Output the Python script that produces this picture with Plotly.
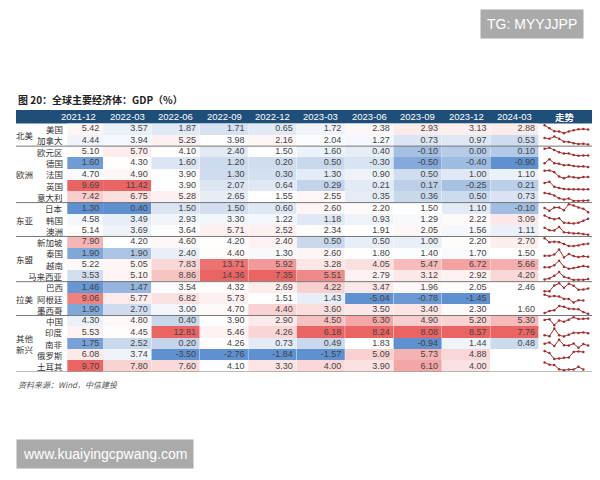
import plotly.graph_objects as go
import numpy as np

periods = ["2021-12","2022-03","2022-06","2022-09","2022-12","2023-03","2023-06","2023-09","2023-12","2024-03"]
regions = [("北美",0,1),("欧洲",2,6),("东亚",7,9),("东盟",10,13),("拉美",14,16),("其他<br>新兴",17,21)]
countries = ["美国","加拿大","欧元区","德国","法国","英国","意大利","日本","韩国","澳洲","新加坡","泰国","越南","马来西亚","巴西","阿根廷","墨西哥","中国","印度","南非","俄罗斯","土耳其"]
N = None
values = [
 [5.42,3.57,1.87,1.71,0.65,1.72,2.38,2.93,3.13,2.88],
 [4.44,3.94,5.25,3.98,2.16,2.04,1.27,0.73,0.97,0.53],
 [5.10,5.70,4.10,2.40,1.50,1.60,0.40,-0.10,0.00,0.10],
 [1.60,4.30,1.60,1.20,0.20,0.50,-0.30,-0.50,-0.40,-0.90],
 [4.70,4.90,3.90,1.30,0.30,1.30,0.90,0.50,1.00,1.10],
 [9.69,11.42,3.90,2.07,0.64,0.29,0.21,0.17,-0.25,0.21],
 [7.42,6.75,5.28,2.65,1.55,2.55,0.35,0.36,0.50,0.73],
 [1.30,0.40,1.50,1.50,0.60,2.60,2.20,1.50,1.10,-0.10],
 [4.58,3.49,2.93,3.30,1.22,1.18,0.93,1.29,2.22,3.09],
 [5.14,3.69,3.64,5.71,2.52,2.34,1.91,2.05,1.56,1.11],
 [7.90,4.20,4.60,4.20,2.40,0.50,0.50,1.00,2.20,2.70],
 [1.90,1.90,2.40,4.40,1.30,2.60,1.80,1.40,1.70,1.50],
 [5.22,5.05,7.83,13.71,5.92,3.28,4.05,5.47,6.72,5.66],
 [3.53,5.10,8.86,14.36,7.35,5.51,2.79,3.12,2.92,4.20],
 [1.46,1.47,3.54,4.32,2.69,4.22,3.47,1.96,2.05,2.46],
 [9.06,5.77,6.82,5.73,1.51,1.43,-5.04,-0.78,-1.45,N],
 [1.90,2.70,3.00,4.70,4.40,3.60,3.50,3.40,2.30,1.60],
 [4.30,4.80,0.40,3.90,2.90,4.50,6.30,4.90,5.20,5.30],
 [5.53,4.45,12.81,5.46,4.26,6.18,8.24,8.08,8.57,7.76],
 [1.75,2.52,0.20,4.26,0.73,0.49,1.83,-0.94,1.44,0.48],
 [6.08,3.74,-3.50,-2.76,-1.84,-1.57,5.09,5.73,4.88,N],
 [9.70,7.80,7.60,4.10,3.30,4.00,3.90,6.10,4.00,N],
]
nr = len(countries)
arr = np.array([[np.nan if v is None else v for v in row] for row in values], dtype=float)

z = np.full_like(arr, np.nan)
for j in range(arr.shape[1]):
    col = arr[:, j]; ok = ~np.isnan(col)
    med = np.median(col[ok]); mx = col[ok].max(); mn = col[ok].min()
    for i in range(nr):
        v = col[i]
        if np.isnan(v): continue
        z[i, j] = (v - med) / (mx - med) if v >= med else (v - med) / (med - mn)
z[14, 9] = 0.0

cscale = [[0,"#5f90d0"],[0.25,"#c3d4eb"],[0.5,"#ffffff"],[0.75,"#f9d2d2"],[1,"#eb6464"]]
fig = go.Figure()
for j in range(10):
    x0 = -0.24 if j == 0 else j - 0.5
    fig.add_trace(go.Heatmap(
        z=z[:, j:j+1], x=[x0, j + 0.5], y=np.arange(nr + 1) - 0.5, zmin=-1, zmax=1,
        colorscale=cscale, showscale=False, hoverinfo="skip"))

tx, ty, tt = [], [], []
for i in range(nr):
    for j in range(10):
        if not np.isnan(arr[i, j]):
            tx.append(j + 0.42); ty.append(i); tt.append(f"{arr[i,j]:.2f}")
fig.add_trace(go.Scatter(x=tx, y=ty, text=tt, mode="text", textposition="middle left",
    textfont=dict(size=9, color="#444", family="Liberation Sans"), hoverinfo="skip"))

for i in range(nr):
    row = arr[i]; ok = ~np.isnan(row)
    vals = row[ok]; mn, mx = vals.min(), vals.max()
    xs = 9.62 + np.arange(len(row))[ok] * (0.9 / 9)
    ys = i + 0.35 - (vals - mn) / (mx - mn) * 0.7
    fig.add_trace(go.Scatter(x=xs, y=ys, mode="lines+markers",
        line=dict(color="#a03030", width=1), marker=dict(size=2.5, color="#a03030"), hoverinfo="skip"))

ann = []
for name, a, b in regions:
    ann.append(dict(x=-1.12, y=(a + b) / 2, text=name, showarrow=False, xref="x", yref="y",
                    font=dict(size=8.5, color="#333", family="Noto Sans CJK SC")))
for i, c in enumerate(countries):
    ann.append(dict(x=-0.28, y=i, text=c, showarrow=False, xref="x", yref="y", xanchor="right",
                    font=dict(size=8.5, color="#333", family="Noto Sans CJK SC")))
for j, p in enumerate(periods):
    ann.append(dict(x=j, y=-1.1, text=p, showarrow=False, xref="x", yref="y",
                    font=dict(size=9.5, color="white", family="Liberation Sans")))
ann.append(dict(x=10.05, y=-1.1, text="<b>走势</b>", showarrow=False, xref="x", yref="y",
                font=dict(size=9.5, color="white", family="Noto Sans CJK SC")))
ann.append(dict(x=0.0, y=1.075, xref="paper", yref="paper", xanchor="left", showarrow=False,
                text="<b>图 20：全球主要经济体：GDP（%）</b>", font=dict(size=10, color="#222", family="Noto Sans CJK SC")))
ann.append(dict(x=0.0, y=-0.075, xref="paper", yref="paper", xanchor="left", showarrow=False,
                text="<i>资料来源：Wind，中信建投</i>", font=dict(size=8, color="#555", family="Noto Sans CJK SC")))
ann.append(dict(x=0.985, y=1.385, xref="paper", yref="paper", xanchor="right", yanchor="top", showarrow=False,
                text="TG: MYYJJPP", bgcolor="#aaaaaa", borderpad=6, font=dict(size=14, color="white", family="Liberation Sans")))
ann.append(dict(x=0.0, y=-0.37, xref="paper", yref="paper", xanchor="left", yanchor="bottom", showarrow=False,
                text="www.kuaiyingcpwang.com", bgcolor="#aaaaaa", borderpad=6, font=dict(size=14, color="white", family="Liberation Sans")))

X0, X1 = -1.3, 10.62
shapes = [dict(type="rect", x0=X0, x1=X1, y0=-1.7, y1=-0.5, xref="x", yref="y",
               fillcolor="#1f4e79", line=dict(width=0), layer="below")]
for yb in [1.5, 6.5, 9.5, 13.5, 16.5, 21.5]:
    shapes.append(dict(type="line", x0=X0, x1=X1, y0=yb, y1=yb, xref="x", yref="y",
                       line=dict(color="#777", width=1)))

fig.update_layout(
    width=600, height=480, margin=dict(l=8, r=15, t=102, b=116),
    plot_bgcolor="white", paper_bgcolor="white", showlegend=False,
    xaxis=dict(range=[X0, X1], visible=False, fixedrange=True),
    yaxis=dict(range=[21.5, -1.7], visible=False, fixedrange=True),
    annotations=ann, shapes=shapes)
fig.write_html("out.html")
